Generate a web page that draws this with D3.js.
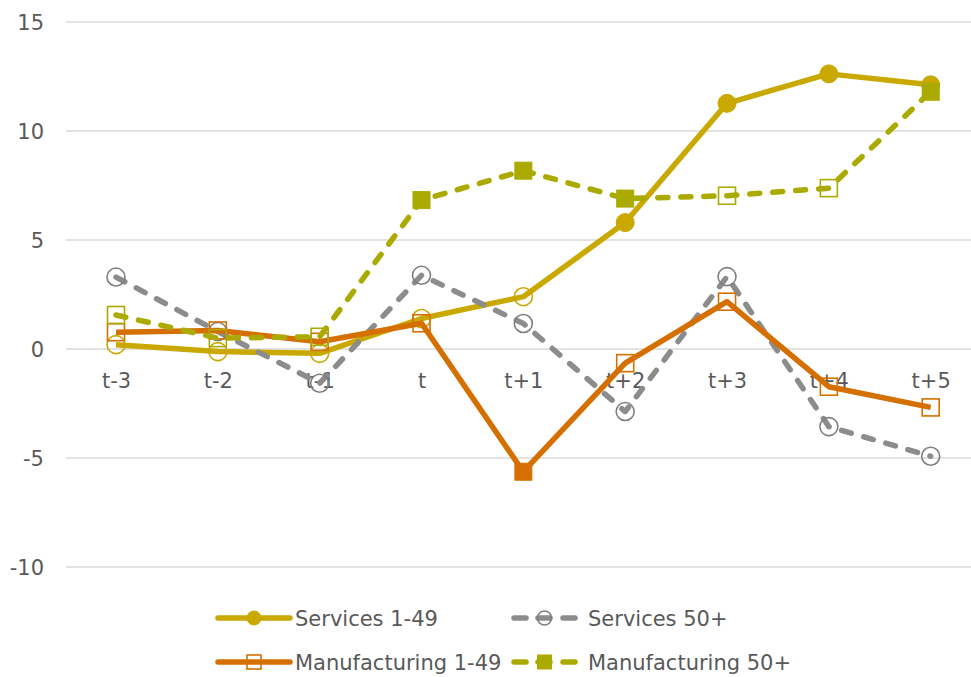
<!DOCTYPE html>
<html>
<head>
<meta charset="utf-8">
<script src="https://cdn.jsdelivr.net/npm/d3@7"></script>
<style>
  html, body { margin: 0; padding: 0; background: #ffffff; }
  svg { display: block; }
  text { font-family: "DejaVu Sans", Verdana, sans-serif; fill: #595959; }
</style>
</head>
<body>
<svg id="chart" width="971" height="677"></svg>
<script>
// ---- data ----
const categories = ["t-3", "t-2", "t-1", "t", "t+1", "t+2", "t+3", "t+4", "t+5"];
const yTicks = [-10, -5, 0, 5, 10, 15];
const yTickLabels = ["-10", "-5", "0", "5", "10", "15"];

const services149 = [0.2, -0.12, -0.2, 1.4, 2.4, 5.8, 11.27, 12.62, 12.12];
const services50 = [3.3, 0.8, -1.57, 3.38, 1.17, -2.87, 3.32, -3.56, -4.92];
const manufacturing149 = [0.77, 0.85, 0.33, 1.18, -5.63, -0.65, 2.17, -1.73, -2.68];
const manufacturing50 = [1.56, 0.5, 0.56, 6.83, 8.18, 6.9, 7.03, 7.38, 11.8];

// which points carry a filled marker (others are hollow)
const services149Filled = [false, false, false, false, false, true, true, true, true];
const services50Filled = [false, false, false, false, false, false, false, false, false];
const manufacturing149Filled = [false, false, false, false, true, false, false, false, false];
const manufacturing50Filled = [false, false, false, true, true, true, false, false, true];

const seriesNames = ["Services 1-49", "Services 50+", "Manufacturing 1-49", "Manufacturing 50+"];

// ---- setup ----
const series = [
  { name: seriesNames[0], values: services149, filled: services149Filled, color: "#C9A800", marker: "circle", dashed: false, hollowColor: "#C9A800" },
  { name: seriesNames[1], values: services50, filled: services50Filled, color: "#8C8C8C", marker: "circle", dashed: true, hollowColor: "#7F7F7F" },
  { name: seriesNames[2], values: manufacturing149, filled: manufacturing149Filled, color: "#D46F00", marker: "square", dashed: false, hollowColor: "#D46F00" },
  { name: seriesNames[3], values: manufacturing50, filled: manufacturing50Filled, color: "#AAAA00", marker: "square", dashed: true, hollowColor: "#AAAA00" }
];

const svg = d3.select("#chart");

const x = d3.scalePoint().domain(categories).range([116, 930.7]);
const y = d3.scaleLinear().domain([-10, 15]).range([567, 22]);

// gridlines
svg.append("g").selectAll("line")
  .data(yTicks).join("line")
  .attr("x1", 66).attr("x2", 971)
  .attr("y1", d => y(d)).attr("y2", d => y(d))
  .attr("stroke", "#D9D9D9").attr("stroke-width", 1.5);

// y axis labels
const yAxis = d3.axisLeft(y).tickValues(yTicks).tickSize(0).tickPadding(0)
  .tickFormat((d, i) => yTickLabels[i]);
const gy = svg.append("g").attr("transform", "translate(44,0)").call(yAxis);
gy.select(".domain").remove();
gy.selectAll("text")
  .style("font-family", '"DejaVu Sans", Verdana, sans-serif')
  .style("font-size", "21px").attr("fill", "#595959").attr("dy", "0.36em");

// x axis labels (below zero line)
const xAxis = d3.axisBottom(x).tickSize(0).tickPadding(0);
const gx = svg.append("g").attr("transform", `translate(0,${y(0)})`).call(xAxis);
gx.select(".domain").remove();
gx.selectAll("text")
  .style("font-family", '"DejaVu Sans", Verdana, sans-serif')
  .style("font-size", "21px").attr("fill", "#595959")
  .attr("y", 0).attr("dy", "1.87em");

const line = d3.line().x((d, i) => x(categories[i])).y(d => y(d));

function drawMarker(g, type, cx, cy, filled, color, hollowColor, size) {
  if (type === "circle") {
    g.append("circle").attr("cx", cx).attr("cy", cy).attr("r", size / 2)
      .attr("fill", filled ? color : "none")
      .attr("stroke", filled ? color : hollowColor)
      .attr("stroke-width", filled ? 1 : 1.6);
  } else {
    g.append("rect").attr("x", cx - size / 2).attr("y", cy - size / 2)
      .attr("width", size).attr("height", size)
      .attr("fill", filled ? color : "none")
      .attr("stroke", filled ? color : hollowColor)
      .attr("stroke-width", filled ? 1 : 1.6);
  }
}

series.forEach(s => {
  const g = svg.append("g");
  g.append("path").datum(s.values)
    .attr("d", line)
    .attr("fill", "none")
    .attr("stroke", s.color)
    .attr("stroke-width", 5.5)
    .attr("stroke-linejoin", "round")
    .attr("stroke-linecap", s.dashed ? "round" : "butt")
    .attr("stroke-dasharray", s.dashed ? "10,13" : null);
  s.values.forEach((v, i) => {
    drawMarker(g, s.marker, x(categories[i]), y(v), s.filled[i], s.color, s.hollowColor, s.marker === "circle" ? 18 : 17);
  });
});

// legend
const legendPos = [
  { x: 218, y: 618 }, { x: 511, y: 618 },
  { x: 218, y: 662 }, { x: 511, y: 662 }
];
series.forEach((s, i) => {
  const p = legendPos[i];
  const g = svg.append("g");
  if (s.dashed) {
    [[p.x + 3, p.x + 15], [p.x + 27, p.x + 39], [p.x + 52, p.x + 64]].forEach(seg => {
      g.append("line").attr("x1", seg[0]).attr("x2", seg[1])
        .attr("y1", p.y).attr("y2", p.y)
        .attr("stroke", s.color).attr("stroke-width", 5.5)
        .attr("stroke-linecap", "round");
    });
  } else {
    g.append("line").attr("x1", p.x).attr("x2", p.x + 72)
      .attr("y1", p.y).attr("y2", p.y)
      .attr("stroke", s.color).attr("stroke-width", 5.5)
      .attr("stroke-linecap", "round");
  }
  const cx = s.dashed ? p.x + 33.5 : p.x + 36;
  const filled = s.name === seriesNames[0] || s.name === seriesNames[3];
  drawMarker(g, s.marker, cx, p.y, filled, s.color, s.hollowColor, 14);
  g.append("text").attr("x", p.x + 77).attr("y", p.y)
    .attr("dy", "0.36em")
    .style("font-size", "21px")
    .text(s.name);
});
</script>
</body>
</html>
